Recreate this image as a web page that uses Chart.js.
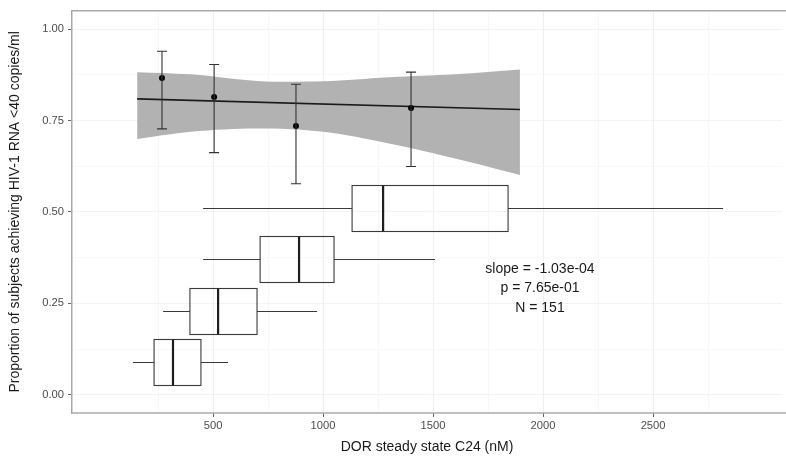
<!DOCTYPE html>
<html>
<head>
<meta charset="utf-8">
<script src="https://cdn.jsdelivr.net/npm/chart.js@4/dist/chart.umd.min.js"></script>
<style>
  html, body { margin: 0; padding: 0; background: #fff; }
  #wrap { width: 786px; height: 467px; }
</style>
</head>
<body>
<div id="wrap"><canvas id="erChart" width="786" height="467"></canvas></div>
<script>
// ==================== DATA ====================
// axis ticks
const xTicks = [500, 1000, 1500, 2000, 2500];
const xMinorTicks = [250, 750, 1250, 1750, 2250, 2750];
const yTicks = [0, 0.25, 0.5, 0.75, 1];
const yMinorTicks = [0.125, 0.375, 0.625, 0.875];

// observed proportion per concentration group, with 95% CI
const groupConc = [268, 505, 877, 1400];
const groupProp = [0.866, 0.814, 0.735, 0.784];
const groupLow  = [0.727, 0.662, 0.577, 0.624];
const groupHigh = [0.939, 0.903, 0.849, 0.882];

// fitted line and its confidence band
const fitLineConc = [155, 1895];
const fitLineProp = [0.809, 0.780];
const bandConc  = [155, 400, 700, 1000, 1300, 1600, 1895];
const bandUpper = [0.882, 0.876, 0.858, 0.857, 0.868, 0.876, 0.889];
const bandLower = [0.699, 0.719, 0.728, 0.719, 0.687, 0.646, 0.601];

// concentration boxplots per group
const boxLevel       = [0.09, 0.23, 0.37, 0.51];
const boxWhiskerLow  = [136, 273, 455, 455];
const boxQ1          = [232, 395, 714, 1132];
const boxMedian      = [318, 523, 891, 1273];
const boxQ3          = [445, 700, 1050, 1841];
const boxWhiskerHigh = [568, 973, 1509, 2818];

// regression summary
const statLines = ["slope = -1.03e-04", "p = 7.65e-01", "N = 151"];

// ==================== HELPERS ====================
const FONT = "'Liberation Sans', Arial, Helvetica, sans-serif";
const BOX_HALF = 0.063;
const STAT_X = 1986, STAT_Y = 0.344;
const FRAME = '#aaaaaa';

function toXY(xs, ys){
    return xs.map((v, i) => ({x: v, y: ys[i]}));
}

function tickBuilder(major, minor){
    return function(scale){
        scale.ticks = major.concat(minor).sort((a, b) => a - b).map(v => ({value: v}));
    };
}

const overlay = {
    id: 'overlay',
    afterDatasetsDraw(chart){
        const {ctx, chartArea, scales: {x, y}} = chart;
        ctx.save();

        // panel top and bottom border, running off the right edge like the source
        ctx.strokeStyle = FRAME;
        ctx.lineWidth = 1.5;
        ctx.beginPath();
        ctx.moveTo(chartArea.left, chartArea.top);
        ctx.lineTo(chart.width, chartArea.top);
        ctx.moveTo(chartArea.left - 0.75, chartArea.bottom);
        ctx.lineTo(chart.width, chartArea.bottom);
        ctx.stroke();

        // boxplots
        boxLevel.forEach((lvl, i) => {
            const yc = Math.round(y.getPixelForValue(lvl)) + 0.5;
            const yt = Math.round(y.getPixelForValue(lvl + BOX_HALF)) + 0.5;
            const yb = Math.round(y.getPixelForValue(lvl - BOX_HALF)) + 0.5;
            const wl = x.getPixelForValue(boxWhiskerLow[i]);
            const q1 = x.getPixelForValue(boxQ1[i]);
            const md = x.getPixelForValue(boxMedian[i]);
            const q3 = x.getPixelForValue(boxQ3[i]);
            const wh = x.getPixelForValue(boxWhiskerHigh[i]);
            ctx.strokeStyle = '#3a3a3a';
            ctx.lineWidth = 1.1;
            ctx.beginPath();
            ctx.moveTo(wl, yc); ctx.lineTo(q1, yc);
            ctx.moveTo(q3, yc); ctx.lineTo(wh, yc);
            ctx.stroke();
            ctx.strokeRect(q1, yt, q3 - q1, yb - yt);
            ctx.lineWidth = 2.2;
            ctx.strokeStyle = '#1e1e1e';
            ctx.beginPath();
            ctx.moveTo(md, yt); ctx.lineTo(md, yb);
            ctx.stroke();
        });

        // error bars
        ctx.strokeStyle = '#333333';
        ctx.lineWidth = 1.1;
        groupConc.forEach((c, i) => {
            const px = x.getPixelForValue(c);
            const lo = y.getPixelForValue(groupLow[i]);
            const hi = y.getPixelForValue(groupHigh[i]);
            ctx.beginPath();
            ctx.moveTo(px, lo); ctx.lineTo(px, hi);
            ctx.moveTo(px - 5, lo); ctx.lineTo(px + 5, lo);
            ctx.moveTo(px - 5, hi); ctx.lineTo(px + 5, hi);
            ctx.stroke();
        });

        // regression summary
        ctx.fillStyle = '#1a1a1a';
        ctx.font = '14px ' + FONT;
        ctx.textAlign = 'center';
        ctx.textBaseline = 'middle';
        const sx = x.getPixelForValue(STAT_X);
        const sy = y.getPixelForValue(STAT_Y);
        statLines.forEach((t, i) => ctx.fillText(t, sx, sy + i * 19.5));

        ctx.restore();
    }
};

// ==================== CHART ====================
function initChart(){
    const ctx = document.getElementById('erChart').getContext('2d');
    new Chart(ctx, {
        type: 'line',
        data: {
            datasets: [
                {
                    data: toXY(bandConc, bandLower),
                    order: 4,
                    borderWidth: 0,
                    pointRadius: 0,
                    tension: 0.35,
                    fill: false
                },
                {
                    data: toXY(bandConc, bandUpper),
                    order: 3,
                    borderWidth: 0,
                    pointRadius: 0,
                    tension: 0.35,
                    backgroundColor: '#b2b2b2',
                    fill: '-1'
                },
                {
                    data: toXY(fitLineConc, fitLineProp),
                    order: 2,
                    borderColor: '#1a1a1a',
                    borderWidth: 1.6,
                    pointRadius: 0,
                    fill: false
                },
                {
                    data: toXY(groupConc, groupProp),
                    order: 1,
                    showLine: false,
                    pointRadius: 3,
                    pointBackgroundColor: '#000',
                    pointBorderColor: '#000',
                    pointBorderWidth: 0
                }
            ]
        },
        options: {
            responsive: false,
            animation: false,
            devicePixelRatio: 1,
            layout: { padding: { top: 7, right: 0, bottom: 0, left: 0 } },
            plugins: { legend: { display: false }, tooltip: { enabled: false } },
            scales: {
                x: {
                    type: 'linear',
                    min: -141,
                    max: 3086,
                    afterBuildTicks: tickBuilder(xTicks, xMinorTicks),
                    afterFit: s => { s.height = 54; },
                    border: { display: false },
                    grid: {
                        color: c => xTicks.includes(c.tick.value) ? '#efefef' : '#f7f7f7',
                        tickColor: c => xTicks.includes(c.tick.value) ? '#666666' : 'rgba(0,0,0,0)',
                        tickLength: 4,
                        lineWidth: 1
                    },
                    ticks: {
                        autoSkip: false,
                        maxRotation: 0,
                        padding: 2,
                        color: '#4d4d4d',
                        font: { family: FONT, size: 11.2 },
                        callback: v => xTicks.includes(v) ? String(v) : ''
                    },
                    title: {
                        display: true,
                        text: 'DOR steady state C24 (nM)',
                        color: '#1a1a1a',
                        font: { family: FONT, size: 14 },
                        padding: { top: 0, bottom: 11 }
                    }
                },
                y: {
                    type: 'linear',
                    min: -0.05,
                    max: 1.05,
                    afterBuildTicks: tickBuilder(yTicks, yMinorTicks),
                    afterFit: s => { s.width = 72; },
                    border: { display: true, color: FRAME, width: 1.5 },
                    grid: {
                        color: c => yTicks.includes(c.tick.value) ? '#f3f3f3' : '#f9f9f9',
                        tickColor: c => yTicks.includes(c.tick.value) ? '#666666' : 'rgba(0,0,0,0)',
                        tickLength: 4,
                        lineWidth: 1
                    },
                    ticks: {
                        autoSkip: false,
                        padding: 4,
                        color: '#4d4d4d',
                        font: { family: FONT, size: 11.2 },
                        callback: v => yTicks.includes(v) ? v.toFixed(2) : ''
                    },
                    title: {
                        display: true,
                        text: 'Proportion of subjects achieving HIV-1 RNA <40 copies/ml',
                        color: '#1a1a1a',
                        font: { family: FONT, size: 14 },
                        padding: { top: 7, bottom: 0 }
                    }
                }
            }
        },
        plugins: [overlay]
    });
}

window.addEventListener('load', initChart);
</script>
</body>
</html>
